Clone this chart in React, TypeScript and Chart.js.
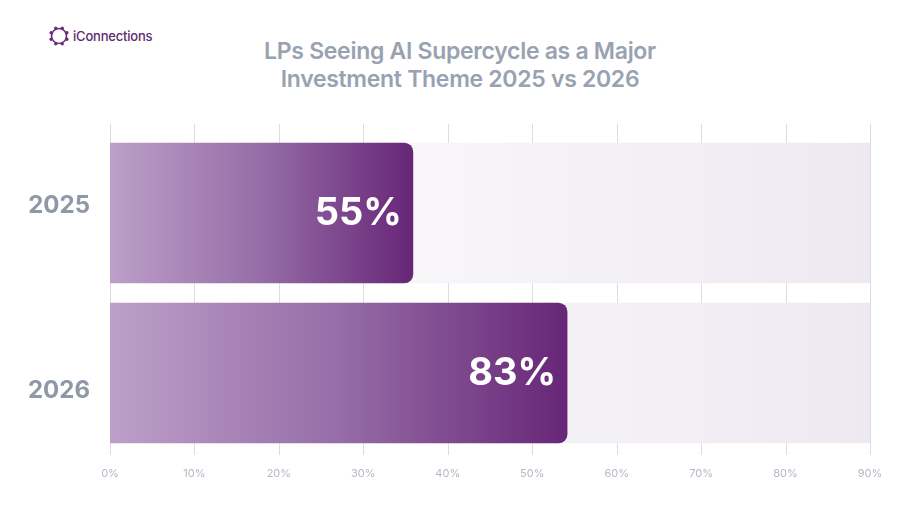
import React, { useEffect, useRef } from "react";
import { Chart, registerables } from "chart.js";

Chart.register(...registerables);

// Survey share of LPs naming the AI supercycle a major investment theme
const YEARS = ["2025", "2026"];
const SHARE = [55, 83];
const AXIS_LABELS = ["0%", "10%", "20%", "30%", "40%", "50%", "60%", "70%", "80%", "90%"];
const AXIS_MAX = 138;
const TRACK = YEARS.map(() => AXIS_MAX);

const FONT = "Inter, 'Noto Sans', sans-serif";

const gridPlugin = {
  id: "extendedGrid",
  beforeDatasetsDraw(chart: any) {
    const { ctx, chartArea, scales } = chart;
    const x = scales.x;
    ctx.save();
    ctx.strokeStyle = "#dcdde2";
    ctx.lineWidth = 1;
    x.ticks.forEach((t: any) => {
      const px = Math.round(x.getPixelForValue(t.value)) + 0.5;
      ctx.beginPath();
      ctx.moveTo(px, chartArea.top - 9);
      ctx.lineTo(px, chartArea.bottom + 2);
      ctx.stroke();
    });
    ctx.restore();
  },
};

// Year labels sit a little wider apart than the bars themselves
const yearLabelPlugin = {
  id: "yearLabels",
  afterDraw(chart: any) {
    const { ctx, chartArea } = chart;
    const mid = (chartArea.top + chartArea.bottom) / 2 + 5;
    const spread = 185;
    const n = YEARS.length;
    ctx.save();
    ctx.fillStyle = "#8f98a6";
    ctx.font = `700 24px ${FONT}`;
    ctx.textAlign = "right";
    ctx.textBaseline = "middle";
    YEARS.forEach((label, i) => {
      const y = mid + (i - (n - 1) / 2) * spread;
      ctx.fillText(label, chartArea.left - 20, y);
    });
    ctx.restore();
  },
};

const valueLabelPlugin = {
  id: "valueLabels",
  afterDatasetsDraw(chart: any) {
    const { ctx } = chart;
    const meta = chart.getDatasetMeta(1);
    ctx.save();
    ctx.fillStyle = "#ffffff";
    ctx.font = `700 38px ${FONT}`;
    ctx.textAlign = "right";
    ctx.textBaseline = "middle";
    meta.data.forEach((bar: any, i: number) => {
      ctx.fillText(`${SHARE[i]}%`, bar.x - 11, bar.y + 1);
    });
    ctx.restore();
  },
};

function barGradient(context: any) {
  const chart = context.chart;
  const area = chart.chartArea;
  if (!area) return "#8a5a9a";
  const end = chart.scales.x.getPixelForValue(context.raw);
  const g = chart.ctx.createLinearGradient(area.left, 0, end, 0);
  g.addColorStop(0, "#bd9fc9");
  g.addColorStop(0.5, "#966da7");
  g.addColorStop(1, "#672677");
  return g;
}

function trackGradient(context: any) {
  const chart = context.chart;
  const area = chart.chartArea;
  if (!area) return "#f4f1f5";
  const g = chart.ctx.createLinearGradient(area.left, 0, area.right, 0);
  g.addColorStop(0, "#ffffff");
  g.addColorStop(1, "#eee9f1");
  return g;
}

function Logo() {
  const dots = Array.from({ length: 8 }, (_, i) => {
    const a = (i * Math.PI) / 4 + Math.PI / 8;
    return { cx: 11 + 8.5 * Math.cos(a), cy: 11 + 8.5 * Math.sin(a) };
  });
  return (
    <div style={{ position: "absolute", left: 48, top: 25, display: "flex", alignItems: "center", gap: 3 }}>
      <svg width="22" height="22" viewBox="0 0 22 22">
        <circle cx="11" cy="11" r="7.5" fill="none" stroke="#6a2c7c" strokeWidth="1.6" />
        {dots.map((d, i) => (
          <circle key={i} cx={d.cx} cy={d.cy} r="1.7" fill="#6a2c7c" />
        ))}
      </svg>
      <span style={{ font: `500 13px ${FONT}`, color: "#5e2a70", letterSpacing: -0.2 }}>iConnections</span>
    </div>
  );
}

export default function App() {
  const canvasRef = useRef<HTMLCanvasElement>(null);

  useEffect(() => {
    const chart = new Chart(canvasRef.current!, {
      type: "bar",
      data: {
        labels: YEARS,
        datasets: [
          {
            label: "Track",
            data: TRACK,
            backgroundColor: trackGradient,
            borderRadius: 0,
            barThickness: 140,
            grouped: false,
            order: 2,
          },
          {
            label: "Share of LPs",
            data: SHARE,
            backgroundColor: barGradient,
            borderRadius: 9,
            barThickness: 140,
            grouped: false,
            order: 1,
          },
        ],
      },
      options: {
        indexAxis: "y",
        animation: false,
        responsive: false,
        layout: { padding: { top: 133, right: 50, left: 0, bottom: 0 } },
        plugins: { legend: { display: false }, tooltip: { enabled: false }, title: { display: false } },
        scales: {
          x: {
            min: 0,
            max: AXIS_MAX,
            border: { display: false },
            grid: { display: false },
            afterBuildTicks(scale: any) {
              scale.ticks = AXIS_LABELS.map((_, i) => ({ value: (i * AXIS_MAX) / (AXIS_LABELS.length - 1) }));
            },
            afterFit(scale: any) {
              scale.height = 67;
            },
            ticks: {
              padding: 6,
              color: "#b2b8c5",
              font: { family: FONT, size: 11 },
              maxRotation: 0,
              autoSkip: false,
              callback: (_v: any, i: number) => AXIS_LABELS[i],
            },
          },
          y: {
            border: { display: false },
            grid: { display: false },
            afterFit(scale: any) {
              scale.width = 110;
            },
            ticks: { display: false },
          },
        },
      },
      plugins: [gridPlugin, valueLabelPlugin, yearLabelPlugin],
    });
    return () => chart.destroy();
  }, []);

  return (
    <div style={{ position: "fixed", left: 0, top: 0, width: 920, height: 520, background: "#ffffff" }}>
      <Logo />
      <div
        style={{
          position: "absolute",
          left: 0,
          top: 37,
          width: 920,
          textAlign: "center",
          font: `600 23px/28px ${FONT}`,
          color: "#98a2b1",
          letterSpacing: -0.3,
        }}
      >
        LPs Seeing AI Supercycle as a Major
        <br />
        Investment Theme 2025 vs 2026
      </div>
      <canvas ref={canvasRef} width={920} height={520} style={{ position: "absolute", left: 0, top: 0 }} />
    </div>
  );
}
